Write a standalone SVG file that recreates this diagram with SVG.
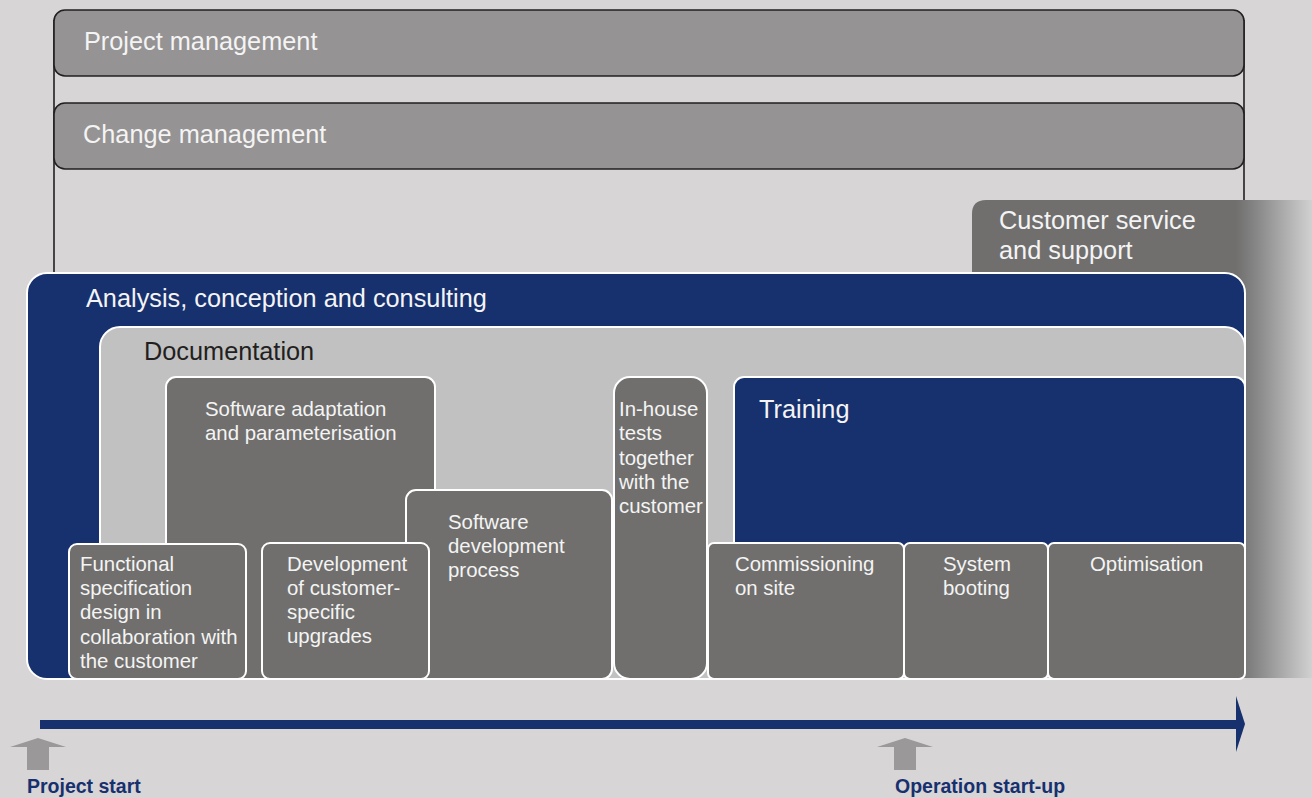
<svg xmlns="http://www.w3.org/2000/svg" width="1312" height="798" viewBox="0 0 1312 798">
<defs>
<linearGradient id="fade" gradientUnits="userSpaceOnUse" x1="1236" y1="0" x2="1312" y2="0">
<stop offset="0" stop-color="#706f6e"/>
<stop offset="0.25" stop-color="#858585"/>
<stop offset="0.6" stop-color="#a9a9a9"/>
<stop offset="1" stop-color="#d2d1d1"/>
</linearGradient>
</defs>
<style>
.t{font-family:"Liberation Sans",Arial,sans-serif;fill:#f4f4f4}
.big{font-size:25.3px}
.sm{font-size:20.4px}
.dark{fill:#231f20}
.mgmt{fill:#959393;stroke:#231f20;stroke-width:1.6}
.box{fill:#706f6d;stroke:#ffffff;stroke-width:2}
.navy{fill:#17306e;stroke:#ffffff;stroke-width:2}
.lbl{font-family:"Liberation Sans",Arial,sans-serif;font-weight:bold;font-size:19.5px;fill:#17306e}
</style>
<rect width="1312" height="798" fill="#d7d5d6"/>
<g id="frame">
<line x1="54" y1="20" x2="54" y2="276" stroke="#231f20" stroke-width="1.6"/>
<line x1="1244" y1="20" x2="1244" y2="202" stroke="#231f20" stroke-width="1.6"/>
</g>
<g id="project-management">
<rect class="mgmt" x="54" y="10" width="1190" height="66" rx="11"/>
<text class="t big" x="84" y="50">Project management</text>
</g>
<g id="change-management">
<rect class="mgmt" x="54" y="103" width="1190" height="66" rx="11"/>
<text class="t big" x="83" y="143">Change management</text>
</g>
<g id="customer-service">
<path d="M972 214 Q972 200 986 200 L1236 200 L1236 678 L972 678 Z" fill="#706f6e"/>
<rect x="1236" y="200" width="76" height="478" fill="url(#fade)"/>
<text class="t big" x="999" y="229">Customer service</text>
<text class="t big" x="999" y="259">and support</text>
</g>
<g id="analysis">
<rect class="navy" x="27" y="273" width="1218" height="406" rx="20"/>
<text class="t big" x="86" y="307">Analysis, conception and consulting</text>
</g>
<g id="documentation">
<rect x="100" y="327" width="1145" height="352" rx="20" fill="#c1c1c1" stroke="#ffffff" stroke-width="2"/>
<text class="t big dark" x="144" y="360">Documentation</text>
</g>
<g id="software-adaptation">
<rect class="box" x="166" y="377" width="269" height="302" rx="10"/>
<text class="t sm" x="205" y="416">Software adaptation</text>
<text class="t sm" x="205" y="440">and parameterisation</text>
</g>
<g id="software-development-process">
<rect class="box" x="406" y="490" width="206" height="189" rx="10"/>
<text class="t sm" x="448" y="529">Software</text>
<text class="t sm" x="448" y="553">development</text>
<text class="t sm" x="448" y="577">process</text>
</g>
<g id="functional-specification">
<rect class="box" x="69" y="544" width="177" height="135" rx="8"/>
<text class="t sm" x="80" y="571">Functional</text>
<text class="t sm" x="80" y="595">specification</text>
<text class="t sm" x="80" y="619">design in</text>
<text class="t sm" x="80" y="644">collaboration with</text>
<text class="t sm" x="80" y="668">the customer</text>
</g>
<g id="customer-upgrades">
<rect class="box" x="262" y="543" width="167" height="136" rx="8"/>
<text class="t sm" x="287" y="571">Development</text>
<text class="t sm" x="287" y="595">of customer-</text>
<text class="t sm" x="287" y="619">specific</text>
<text class="t sm" x="287" y="643">upgrades</text>
</g>
<g id="in-house-tests">
<rect class="box" x="614" y="377" width="93" height="302" rx="16"/>
<text class="t sm" x="619" y="416">In-house</text>
<text class="t sm" x="619" y="440">tests</text>
<text class="t sm" x="619" y="465">together</text>
<text class="t sm" x="619" y="489">with the</text>
<text class="t sm" x="619" y="513">customer</text>
</g>
<g id="training">
<rect class="navy" x="734" y="377" width="511" height="230" rx="10"/>
<text class="t big" x="759" y="418">Training</text>
</g>
<g id="commissioning">
<rect class="box" x="708" y="543" width="196" height="136" rx="6"/>
<text class="t sm" x="735" y="571">Commissioning</text>
<text class="t sm" x="735" y="595">on site</text>
</g>
<g id="system-booting">
<rect class="box" x="904" y="543" width="144" height="136" rx="6"/>
<text class="t sm" x="943" y="571">System</text>
<text class="t sm" x="943" y="595">booting</text>
</g>
<g id="optimisation">
<rect class="box" x="1048" y="543" width="197" height="136" rx="6"/>
<text class="t sm" x="1090" y="571">Optimisation</text>
</g>
<g id="connectors">
<rect x="40" y="720" width="1198" height="9" fill="#17306e"/>
<polygon points="1236,696 1245,724 1236,752" fill="#17306e"/>
<polygon points="10,747 38,738 66,747 49,747 49,770 27,770 27,747" fill="#9a9899"/>
<polygon points="877,747 905,738 933,747 916,747 916,770 894,770 894,747" fill="#9a9899"/>
</g>
<g id="milestones">
<text class="lbl" x="27" y="793">Project start</text>
<text class="lbl" x="895" y="793">Operation start-up</text>
</g>
</svg>
